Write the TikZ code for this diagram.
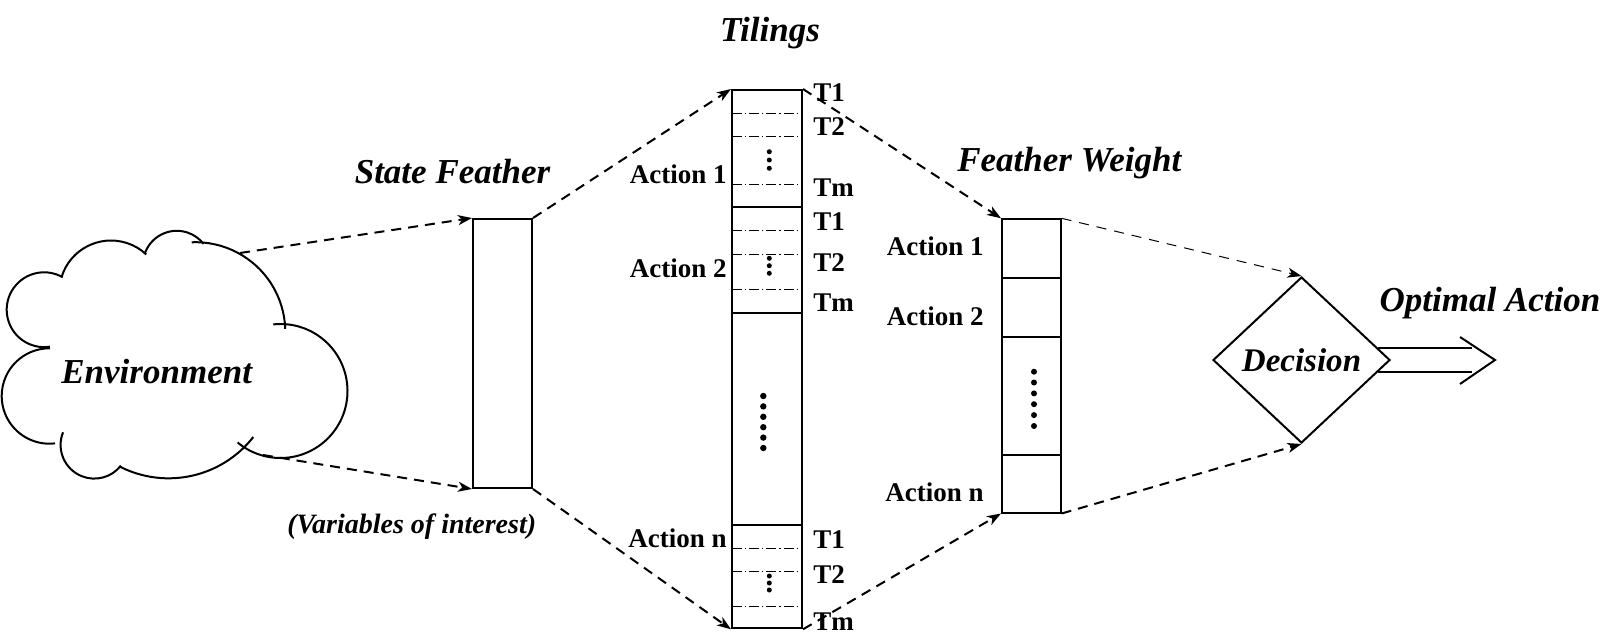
\documentclass[tikz,border=0pt]{standalone}
\usepackage{fontspec}
\setmainfont{Liberation Serif}
\usetikzlibrary{arrows.meta,shapes.geometric}

\begin{document}
\begin{tikzpicture}[x=0.5pt,y=-0.5pt,
  box/.style={draw,line width=1pt,inner sep=0pt},
  lbl/.style={font=\fontsize{13.5}{16}\selectfont\bfseries,inner sep=0pt},
  ttl/.style={font=\fontsize{17.5}{20}\selectfont\bfseries\itshape,inner sep=0pt},
  flow/.style={line width=1pt,dash pattern=on 5pt off 3.5pt,
    -{Stealth[length=7pt,width=5pt,inset=2pt]}},
  thinflow/.style={line width=0.5pt,dash pattern=on 5pt off 4pt,
    -{Stealth[length=7pt,width=5pt,inset=2pt]}},
  tile/.style={line width=0.5pt,dash pattern=on 5pt off 1.5pt on 0.6pt off 1.5pt},
  divider/.style={line width=1pt},
  cloudline/.style={line width=1pt},
]
\useasboundingbox (0,0) rectangle (1607,634);

% ---- cloud made of overlapping arcs ----
\newcommand\bump[4]{\draw[cloudline] (#1) ++(#2:#4) arc[start angle=#2,end angle=#3,radius=#4];}
\bump{176.8,264.7}{198}{322}{33.9}
\bump{111,292.2}{197.5}{313}{51.7}
\bump{44.1,309.7}{81}{300}{37.4}
\bump{49.4,396}{270.7}{83.2}{47.7}
\bump{94.3,444.9}{202}{38}{33.7}
\bump{168.6,370.8}{117}{38}{107.5}
\bump{280.5,391}{263.8}{489.8}{67}
\bump{195.5,332}{267.6}{358}{89.8}
\node[ttl] (env) at (156.7,383.3) [anchor=base] {Environment};
\coordinate (c1) at (240,253);
\coordinate (c2) at (263,455);

% ---- boxes ----
\node[box,minimum width=29.5pt,minimum height=134.5pt] (sf) at (502.5,353.5) {};
\node[box,minimum width=35pt,minimum height=269.15pt] (til) at (767,359.15) {};
\node[box,minimum width=29.3pt,minimum height=146.6pt] (fw) at (1031.3,365.9) {};
\node[draw,diamond,line width=1pt,inner sep=0pt,minimum width=88.5pt,minimum height=83pt,
      font=\fontsize{16.5}{19}\selectfont\bfseries\itshape] (dec) at (1301.5,360) {Decision};

% ---- tiling rows ----
\foreach \y in {207.3,312.7,525} \draw[divider] (732,\y) -- (802,\y);
\foreach \y in {113.3,136.7,184.3,230.7,254,289.3,548.3,571.7,606.7} \draw[tile] (732,\y) -- (802,\y);
\foreach \y in {151.7,160,168.3,258.3,265.7,273.3,576,583,590} \fill (769.3,\y) circle[radius=2.5];
\foreach \y in {396,406.4,416.8,427.2,437.6,448} \fill (763.3,\y) circle[radius=3.2];

% ---- feather weight rows ----
\foreach \y in {278.3,336.7,455} \draw[divider] (1002,\y) -- (1060.7,\y);
\foreach \y in {371.7,382.5,393.4,404.2,415.1,426} \fill (1034,\y) circle[radius=3];

% ---- titles ----
\node[ttl,anchor=base] (tt) at (770,41.7) {Tilings};
\node[ttl,anchor=base] (st) at (452.5,183.3) {State Feather};
\node[ttl,anchor=base] (ft) at (1069.3,171.7) {Feather Weight};
\node[ttl,anchor=base] (ot) at (1490,311.7) {Optimal Action};
\node[font=\fontsize{14}{16}\selectfont\bfseries\itshape,inner sep=0pt,anchor=base] (vi)
  at (411.7,533.3) {(Variables of interest)};

% ---- action labels ----
\node[lbl,anchor=base east] (ta1) at (727,183.3) {Action 1};
\node[lbl,anchor=base east] (ta2) at (727,277.3) {Action 2};
\node[lbl,anchor=base east] (tan) at (727,547.5) {Action n};
\node[lbl,anchor=base east] (fa1) at (984,255) {Action 1};
\node[lbl,anchor=base east] (fa2) at (984,325) {Action 2};
\node[lbl,anchor=base east] (fan) at (984,501.7) {Action n};

% ---- tiling names ----
\node[lbl,anchor=base west] (a1t1) at (813,101.7) {T1};
\node[lbl,anchor=base west] (a1t2) at (813,135) {T2};
\node[lbl,anchor=base west] (a1tm) at (813,196.7) {Tm};
\node[lbl,anchor=base west] (a2t1) at (813,230) {T1};
\node[lbl,anchor=base west] (a2t2) at (813,271.7) {T2};
\node[lbl,anchor=base west] (a2tm) at (813,311) {Tm};
\node[lbl,anchor=base west] (ant1) at (813,548) {T1};
\node[lbl,anchor=base west] (ant2) at (813,583) {T2};
\node[lbl,anchor=base west] (antm) at (813,630) {Tm};

% ---- connectors ----
\draw[flow] (c1) -- (sf.north west);
\draw[flow] (c2) -- (sf.south west);
\draw[flow] (sf.north east) -- (til.north west);
\draw[flow] (sf.south east) -- (til.south west);
\draw[flow] (til.north east) -- (fw.north west);
\draw[flow] (til.south east) -- (fw.south west);
\draw[thinflow] (fw.north east) -- (dec.north);
\draw[flow] (fw.south east) -- (dec.south);

% ---- output arrow ----
\coordinate (oa) at (1495,360);
\draw[line width=1pt] ([shift={(-13,-12)}]dec.east) -- ([shift={(-23,-12)}]oa);
\draw[line width=1pt] ([shift={(-13,12)}]dec.east) -- ([shift={(-23,12)}]oa);
\draw[line width=1pt] ([shift={(-35,-23)}]oa) -- (oa) -- ([shift={(-35,24)}]oa);
\end{tikzpicture}
\end{document}
